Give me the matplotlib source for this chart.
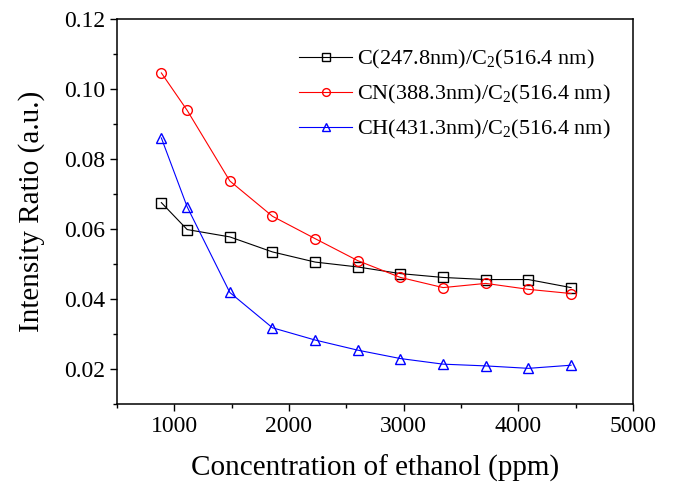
import matplotlib
matplotlib.use("Agg")
import matplotlib.pyplot as plt
from matplotlib.ticker import MultipleLocator, FormatStrFormatter

plt.rcParams['font.family'] = ['Liberation Serif', 'DejaVu Serif']
plt.rcParams['mathtext.fontset'] = 'custom'
plt.rcParams['mathtext.rm'] = 'Liberation Serif'
plt.rcParams['mathtext.it'] = 'Liberation Serif:italic'

# ethanol concentration (ppm)
konsantrasyon = [887, 1112, 1484, 1856, 2228, 2600, 2972, 3344, 3716, 4088, 4460]

c_c2 = [0.0676, 0.0599, 0.0578, 0.0535, 0.0506, 0.0492, 0.0473, 0.0462, 0.0456, 0.0456, 0.0433]
cn_c2 = [0.1047, 0.0940, 0.0738, 0.0637, 0.0573, 0.0510, 0.0462, 0.0433, 0.0445, 0.0428, 0.0416]
ch_c2 = [0.0861, 0.0664, 0.0419, 0.0318, 0.0283, 0.0254, 0.0230, 0.0214, 0.0209, 0.0202, 0.0211]

etiketler = [
    "C(247.8nm)/C$_2$(516.4 nm)",
    "CN(388.3nm)/C$_2$(516.4 nm)",
    "CH(431.3nm)/C$_2$(516.4 nm)",
]

fig = plt.figure(figsize=(6.77, 4.86), dpi=100)
ax = fig.add_axes([0.1728, 0.1687, 0.7622, 0.7913])

ax.plot(konsantrasyon, c_c2, color='black', marker='s', markersize=6.5,
        markerfacecolor='none', linewidth=0.8, label=etiketler[0])
ax.plot(konsantrasyon, cn_c2, color='red', marker='o', markersize=7,
        markerfacecolor='none', linewidth=0.8, label=etiketler[1])
ax.plot(konsantrasyon, ch_c2, color='blue', marker='^', markersize=7.5,
        markerfacecolor='none', linewidth=0.8, label=etiketler[2])

ax.set_xlim(500, 5000)
ax.set_ylim(0.01, 0.12)
ax.xaxis.set_major_locator(MultipleLocator(1000))
ax.xaxis.set_minor_locator(MultipleLocator(500))
ax.yaxis.set_major_locator(MultipleLocator(0.02))
ax.yaxis.set_minor_locator(MultipleLocator(0.01))
ax.yaxis.set_major_formatter(FormatStrFormatter('%.2f'))

ax.tick_params(which='major', direction='out', length=5, width=1, labelsize=17)
ax.tick_params(which='minor', direction='out', length=3, width=1)
for s in ax.spines.values():
    s.set_linewidth(1.1)

ax.set_xlabel("Concentration of ethanol (ppm)", fontsize=21, labelpad=13)
ax.set_ylabel("Intensity Ratio (a.u.)", fontsize=21, labelpad=14)

leg = ax.legend(loc='upper right', bbox_to_anchor=(0.995, 0.978), frameon=False,
                fontsize=16, handlelength=2.4, handletextpad=0.2, labelspacing=0.55,
                markerscale=0.8)

fig.savefig("out.png", dpi=100)
